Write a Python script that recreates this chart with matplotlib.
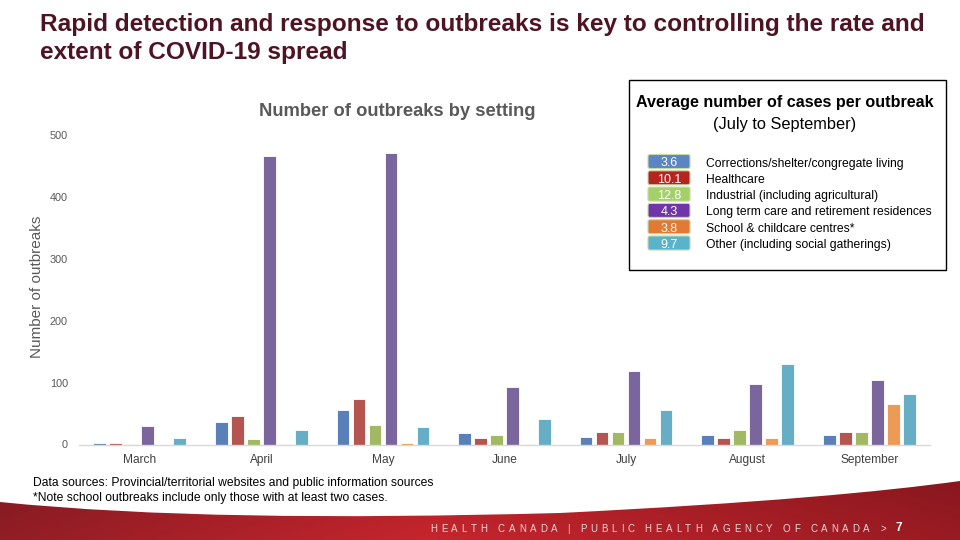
import numpy as np
import matplotlib
matplotlib.use("Agg")
import matplotlib.pyplot as plt
from matplotlib.patches import FancyBboxPatch, Rectangle, PathPatch
from matplotlib.path import Path

plt.rcParams['font.family'] = ['Liberation Sans', 'DejaVu Sans']

# ---------------- data ----------------
months = ["March", "April", "May", "June", "July", "August", "September"]
settings = ["Corrections/shelter/congregate living", "Healthcare",
            "Industrial (including agricultural)",
            "Long term care and retirement residences",
            "School & childcare centres*", "Other (including social gatherings)"]
corrections = [2, 36, 55, 18, 12, 15, 16]
healthcare = [3, 46, 74, 11, 21, 10, 20]
industrial = [1, 9, 31, 15, 20, 23, 20]
long_term_care = [30, 466, 471, 93, 118, 98, 104]
school = [0, 1, 2, 1, 11, 11, 65]
other = [10, 23, 29, 42, 55, 130, 82]
avg_cases = ["3.6", "10.1", "12.8", "4.3", "3.8", "9.7"]
yticks = [0, 100, 200, 300, 400, 500]

series = [corrections, healthcare, industrial, long_term_care, school, other]
bar_colors = ["#5a80b9", "#b4564f", "#a2b964", "#7b659d", "#ec9a56", "#66adc6"]
box_colors = ["#5b85c4", "#b62320", "#a3d06a", "#7035a8", "#e07a34", "#58b3cb"]

W, H = 960, 540
fig = plt.figure(figsize=(W / 100, H / 100), dpi=100)
renderer = fig.canvas.get_renderer()

# background overlay in pixel coords
bg = fig.add_axes([0, 0, 1, 1])
bg.set_xlim(0, W)
bg.set_ylim(H, 0)
bg.axis("off")

# footer red band with curved top
verts = [(0, 502), (150, 517), (330, 519), (560, 513),
         (760, 503), (880, 492), (960, 481),
         (960, 540), (0, 540), (0, 502)]
codes = [Path.MOVETO, Path.CURVE4, Path.CURVE4, Path.CURVE4,
         Path.CURVE4, Path.CURVE4, Path.CURVE4,
         Path.LINETO, Path.LINETO, Path.CLOSEPOLY]
path = Path(verts, codes)
patch = PathPatch(path, facecolor="none", edgecolor="none")
bg.add_patch(patch)
xs = np.linspace(0, 1, 300)
c_left = np.array([0.55, 0.11, 0.14])
c_mid = np.array([0.75, 0.14, 0.17])
c_right = np.array([0.58, 0.10, 0.13])
row = np.where(xs[:, None] < 0.45,
               c_left + (c_mid - c_left) * (xs[:, None] / 0.45),
               c_mid + (c_right - c_mid) * ((xs[:, None] - 0.45) / 0.55))
ys = np.linspace(0, 1, 60)[:, None, None]
img = row[None, :, :] * (0.92 + 0.12 * ys)
img = np.clip(img, 0, 1)
im = bg.imshow(img, extent=[0, W, 540, 478], aspect="auto", zorder=1)
im.set_clip_path(patch)

# letter-spaced footer text
footer = "HEALTH CANADA | PUBLIC HEALTH AGENCY OF CANADA >"
fx0, fx1 = 430, 886
chars = []
widths = []
for ch in footer:
    t = bg.text(0, 529, ch if ch != " " else "n", fontsize=7.0,
                color="#e8d6d6", va="center", ha="left")
    w = t.get_window_extent(renderer).width
    if ch == " ":
        w *= 0.5
        t.set_text("")
    chars.append(t)
    widths.append(w)
track = (fx1 - fx0 - sum(widths)) / (len(footer) - 1)
xpos = fx0
for t, w in zip(chars, widths):
    t.set_x(xpos)
    xpos += w + track
bg.text(899, 528, "7", fontsize=8.5, color="white", fontweight="bold",
        va="center", ha="center")

# main title
bg.text(40, 24, "Rapid detection and response to outbreaks is key to controlling the rate and",
        fontsize=17.55, fontweight="bold", color="#4e1424", va="center", ha="left")
bg.text(40, 53, "extent of COVID-19 spread",
        fontsize=17.55, fontweight="bold", color="#4e1424", va="center", ha="left")

# footnotes
bg.text(33, 483, "Data sources: Provincial/territorial websites and public information sources",
        fontsize=8.7, color="black", va="center", ha="left")
bg.text(33, 498, "*Note school outbreaks include only those with at least two cases.",
        fontsize=8.7, color="black", va="center", ha="left")

# chart title and y label
bg.text(397, 111, "Number of outbreaks by setting", fontsize=13.2, fontweight="bold",
        color="#595959", va="center", ha="center")
bg.text(37, 287, "Number of outbreaks", fontsize=11, color="#595959",
        va="center", ha="center", rotation=90)

# legend box
bg.add_patch(Rectangle((629, 80), 317, 190, facecolor="white",
                       edgecolor="black", linewidth=1.0, zorder=2))
bg.text(785, 103, "Average number of cases per outbreak", fontsize=11.6,
        fontweight="bold", color="black", ha="center", va="center", zorder=3)
bg.text(785, 124, "(July to September)", fontsize=11.8, color="black",
        ha="center", va="center", zorder=3)
row_y0, row_dy = 161.5, 16.3
for i, (lab, val, col) in enumerate(zip(settings, avg_cases, box_colors)):
    yc = row_y0 + i * row_dy
    bg.add_patch(FancyBboxPatch((648, yc - 7), 42, 14,
                                boxstyle="round,pad=0,rounding_size=2",
                                facecolor=col, edgecolor="#c9d9a6",
                                linewidth=0.8, zorder=3))
    bg.text(669, yc + 0.5, val, fontsize=9, color="white", ha="center",
            va="center_baseline", zorder=4)
    bg.text(706, yc + 0.5, lab, fontsize=8.7, color="black", ha="left",
            va="center_baseline", zorder=4)

# ---------------- bar chart ----------------
left, right = 79, 930
top, base = 135, 444.5
ax = fig.add_axes([left / W, (H - base) / H, (right - left) / W, (base - top) / H])
ax.patch.set_alpha(0)
x = np.arange(len(months))
slot = 0.1317
bw = 0.105
for k, (vals, col) in enumerate(zip(series, bar_colors)):
    ax.bar(x + (k - 2.5) * slot, vals, width=bw, color=col,
           edgecolor="white", linewidth=0.6, zorder=2)
ax.set_xlim(-0.5, len(months) - 0.5)
ax.set_ylim(0, 500)
ax.set_yticks(yticks)
ax.set_yticklabels([str(t) for t in yticks], fontsize=7.8, color="#595959")
ax.set_xticks(x)
ax.set_xticklabels(months, fontsize=8.6, color="#404040")
ax.tick_params(axis="both", length=0)
ax.tick_params(axis="y", pad=8)
ax.tick_params(axis="x", pad=7)
for s in ["top", "right", "left"]:
    ax.spines[s].set_visible(False)
ax.spines["bottom"].set_color("#d9d9d9")
ax.spines["bottom"].set_linewidth(1.0)

fig.savefig("out.png", dpi=100)
